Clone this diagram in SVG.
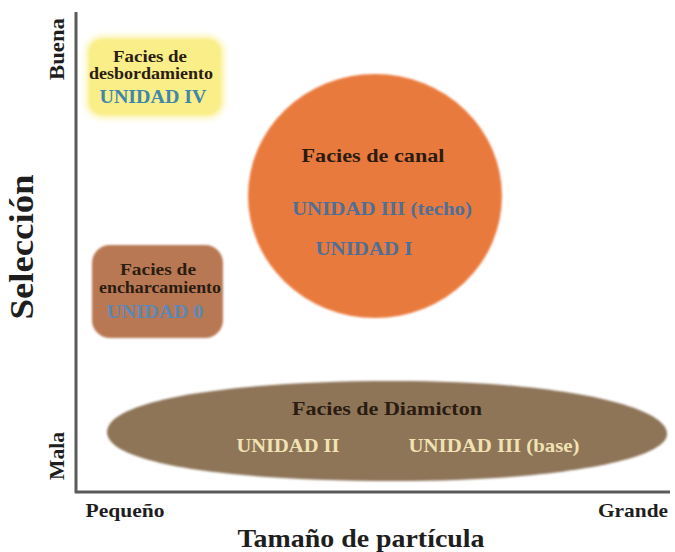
<svg xmlns="http://www.w3.org/2000/svg" width="675" height="552" viewBox="0 0 675 552">
<defs>
<style>
text{font-family:"Liberation Serif","DejaVu Serif",serif;font-weight:bold;text-anchor:middle}
.dark{fill:#2b1c12}
.blue{fill:#3f86ab}
.blue2{fill:#4d6f98}
.blue3{fill:#5a88b8}
.cream{fill:#f1e2b4}
.axl{fill:#1e1e1e}
</style>
<filter id="soft" x="-10%" y="-10%" width="120%" height="120%"><feGaussianBlur stdDeviation="1.2"/></filter>
<filter id="glow" x="-20%" y="-20%" width="140%" height="140%"><feGaussianBlur stdDeviation="3"/></filter>
</defs>
<rect width="675" height="552" fill="#ffffff"/>
<g id="axes">
<line x1="76" y1="12" x2="76" y2="493" stroke="#5a5a5a" stroke-width="3"/>
<line x1="75" y1="492" x2="670" y2="492" stroke="#5a5a5a" stroke-width="3"/>
<text class="axl" font-size="20" transform="translate(64,49) rotate(-90)" textLength="62" lengthAdjust="spacingAndGlyphs">Buena</text>
<text class="axl" font-size="20" transform="translate(64,456) rotate(-90)" textLength="48" lengthAdjust="spacingAndGlyphs">Mala</text>
<text class="axl" font-size="33" transform="translate(33,247) rotate(-90)" textLength="145" lengthAdjust="spacingAndGlyphs">Selección</text>
<text class="axl" font-size="19" x="125" y="517" textLength="79" lengthAdjust="spacingAndGlyphs">Pequeño</text>
<text class="axl" font-size="19" x="633" y="517" textLength="70" lengthAdjust="spacingAndGlyphs">Grande</text>
<text class="axl" font-size="26" x="361" y="547" textLength="247" lengthAdjust="spacingAndGlyphs">Tamaño de partícula</text>
</g>
<g id="node-desbordamiento">
<rect x="86" y="36" width="138" height="82" rx="16" fill="#fbf3a6" filter="url(#glow)"/>
<rect x="89" y="39" width="132" height="76" rx="14" fill="#f9ee88" filter="url(#soft)"/>
<text class="dark" font-size="16" x="150" y="62" textLength="74" lengthAdjust="spacingAndGlyphs">Facies de</text>
<text class="dark" font-size="16" x="151" y="79" textLength="124" lengthAdjust="spacingAndGlyphs">desbordamiento</text>
<text class="blue" font-size="19" x="153" y="103" textLength="107" lengthAdjust="spacingAndGlyphs">UNIDAD IV</text>
</g>
<g id="node-encharcamiento">
<rect x="92" y="245" width="131" height="93" rx="18" fill="#b87852" filter="url(#soft)"/>
<text class="dark" font-size="16" x="158" y="275" textLength="76" lengthAdjust="spacingAndGlyphs">Facies de</text>
<text class="dark" font-size="16" x="160" y="293" textLength="122" lengthAdjust="spacingAndGlyphs">encharcamiento</text>
<text class="blue3" font-size="18" x="155" y="318" textLength="97" lengthAdjust="spacingAndGlyphs">UNIDAD 0</text>
</g>
<g id="node-canal">
<ellipse cx="375" cy="196" rx="127" ry="122" fill="#e97a3e" filter="url(#soft)"/>
<text class="dark" font-size="19" x="373" y="162" textLength="143" lengthAdjust="spacingAndGlyphs">Facies de canal</text>
<text class="blue2" font-size="19" x="382" y="215" textLength="180" lengthAdjust="spacingAndGlyphs">UNIDAD III (techo)</text>
<text class="blue2" font-size="19" x="364" y="255" textLength="97" lengthAdjust="spacingAndGlyphs">UNIDAD I</text>
</g>
<g id="node-diamicton">
<path d="M107,432 C107,400 230,381 395,381 C555,381 667,405 667,434 C667,460 555,481 395,481 C230,481 107,464 107,432 Z" fill="#8e7559" filter="url(#soft)"/>
<text class="dark" font-size="19" x="387" y="415" textLength="190" lengthAdjust="spacingAndGlyphs">Facies de Diamicton</text>
<text class="cream" font-size="19" x="288" y="452" textLength="103" lengthAdjust="spacingAndGlyphs">UNIDAD II</text>
<text class="cream" font-size="19" x="494" y="452" textLength="171" lengthAdjust="spacingAndGlyphs">UNIDAD III (base)</text>
</g>
</svg>
